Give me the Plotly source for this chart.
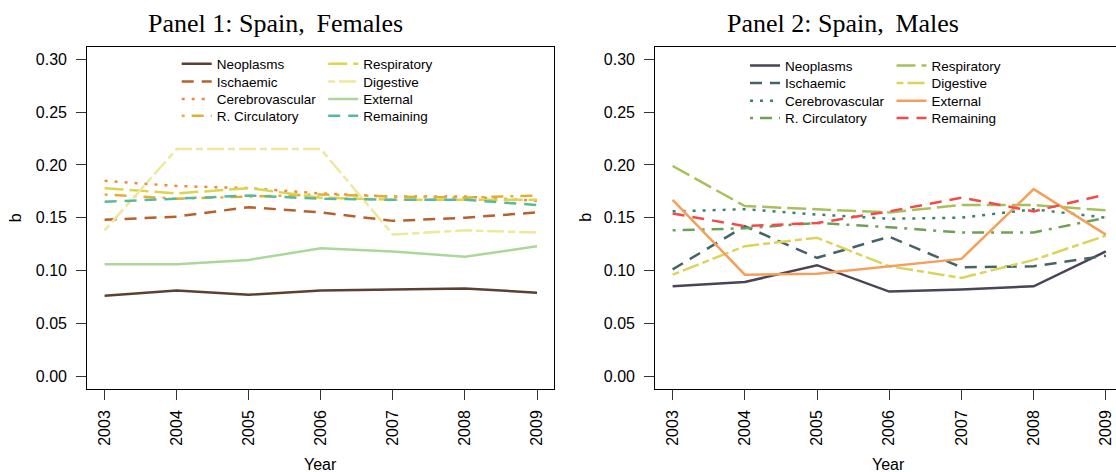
import plotly.graph_objects as go

# ---- data: estimated rotation parameter b by cause of death, Spain ----
years = [2003, 2004, 2005, 2006, 2007, 2008, 2009]
year_labels = [str(y) for y in years]
causes = ["Neoplasms", "Ischaemic", "Cerebrovascular", "R. Circulatory",
          "Respiratory", "Digestive", "External", "Remaining"]
b_ticks = [0.00, 0.05, 0.10, 0.15, 0.20, 0.25, 0.30]

# Females
fem_neoplasms = [0.076, 0.081, 0.077, 0.081, 0.082, 0.083, 0.079]
fem_ischaemic = [0.148, 0.151, 0.160, 0.155, 0.147, 0.150, 0.155]
fem_cerebro = [0.185, 0.180, 0.178, 0.173, 0.170, 0.170, 0.166]
fem_rcirc = [0.172, 0.168, 0.170, 0.172, 0.170, 0.169, 0.171]
fem_respiratory = [0.178, 0.173, 0.178, 0.169, 0.167, 0.167, 0.167]
fem_digestive = [0.138, 0.215, 0.215, 0.215, 0.134, 0.138, 0.136]
fem_external = [0.106, 0.106, 0.110, 0.121, 0.118, 0.113, 0.123]
fem_remaining = [0.165, 0.168, 0.171, 0.168, 0.167, 0.167, 0.162]

# Males
mal_neoplasms = [0.085, 0.089, 0.105, 0.080, 0.082, 0.085, 0.118]
mal_ischaemic = [0.101, 0.142, 0.112, 0.132, 0.103, 0.104, 0.114]
mal_cerebro = [0.156, 0.158, 0.153, 0.149, 0.150, 0.158, 0.150]
mal_rcirc = [0.138, 0.140, 0.145, 0.141, 0.136, 0.136, 0.150]
mal_respiratory = [0.199, 0.161, 0.158, 0.155, 0.162, 0.162, 0.157]
mal_digestive = [0.096, 0.123, 0.131, 0.104, 0.093, 0.110, 0.133]
mal_external = [0.167, 0.096, 0.097, 0.104, 0.111, 0.177, 0.134]
mal_remaining = [0.154, 0.142, 0.145, 0.156, 0.169, 0.156, 0.172]

female_series = [fem_neoplasms, fem_ischaemic, fem_cerebro, fem_rcirc,
                 fem_respiratory, fem_digestive, fem_external, fem_remaining]
male_series = [mal_neoplasms, mal_ischaemic, mal_cerebro, mal_rcirc,
               mal_respiratory, mal_digestive, mal_external, mal_remaining]

female_colors = ["#5a4133", "#b8602c", "#f0893a", "#e0b034",
                 "#dcd44a", "#ede89c", "#a9d89a", "#5cb89b"]
male_colors = ["#4a4456", "#466466", "#3e8070", "#6fa058",
               "#a8c05a", "#dcd45a", "#f4a05a", "#f44a4a"]

# R-style line types: solid, dashed, dotted, dotdash, longdash, twodash
dash_cycle = ["solid", "12px,8px", "3px,7px", "3px,7px,12px,7px",
              "19px,6px", "7px,4px,17px,4px", "solid", "12px,8px"]

# ---- layout geometry (pixels) ----
W, H = 1116, 472
LINE_W = 2.5


def fx(px):
    return px / W


def fy(py):
    return 1 - py / H


panels = [
    dict(series=female_series, colors=female_colors, xaxis="x", yaxis="y",
         xdom=(87.3, 554.3), xrange=(2002.76, 2009.24),
         title="Panel 1: Spain,\u2009 Females", title_x=275.5,
         leg_x=181.7, leg_rows=[64.0, 81.7, 99.3, 116.0], ylab_x=15.5),
    dict(series=male_series, colors=male_colors, xaxis="x2", yaxis="y2",
         xdom=(655.3, 1116.0), xrange=(2002.76, 2002.76 + (1116.0 - 655.3) / 72.2),
         title="Panel 2: Spain,\u2009 Males", title_x=843.3,
         leg_x=750.0, leg_rows=[65.7, 83.3, 101.0, 118.3], ylab_x=586.0),
]
COL_GAP = 146.5
Y_TOP, Y_BOT = 46.7, 388.7

fig = go.Figure()
layout_extra = {}
annotations = []
legend_count = 0

for p_i, p in enumerate(panels):
    for i, (name, vals) in enumerate(zip(causes, p["series"])):
        legend_count += 1
        lid = "legend" if legend_count == 1 else f"legend{legend_count}"
        row, col = i % 4, i // 4
        fig.add_trace(go.Scatter(
            x=years, y=vals, mode="lines", name=name,
            xaxis=p["xaxis"], yaxis=p["yaxis"],
            line=dict(color=p["colors"][i], width=LINE_W, dash=dash_cycle[i]),
            legend=lid, hoverinfo="x+y+name",
        ))
        layout_extra[lid] = dict(
            x=fx(p["leg_x"] + col * COL_GAP - 5), y=fy(p["leg_rows"][row]),
            xanchor="left", yanchor="middle", orientation="v",
            bgcolor="rgba(0,0,0,0)", borderwidth=0,
            font=dict(family="Liberation Sans", size=13.5, color="black"),
            itemwidth=30,
        )
    annotations.append(dict(
        text=p["title"], x=fx(p["title_x"]), y=fy(23.5),
        xref="paper", yref="paper",
        showarrow=False, xanchor="center", yanchor="middle",
        font=dict(family="Liberation Serif", size=26, color="black")))
    annotations.append(dict(
        text="b", x=fx(p["ylab_x"]), y=fy((Y_TOP + Y_BOT) / 2), xref="paper", yref="paper",
        showarrow=False, xanchor="center", yanchor="middle", textangle=-90,
        font=dict(family="Liberation Sans", size=16, color="black")))
    annotations.append(dict(
        text="Year", x=fx((p["xdom"][0] + p["xdom"][0] + 467.0) / 2), y=fy(464),
        xref="paper", yref="paper", showarrow=False, xanchor="center", yanchor="middle",
        font=dict(family="Liberation Sans", size=16, color="black")))

tick_font = dict(family="Liberation Sans", size=16, color="black")
common_x = dict(tickmode="array", tickvals=years, ticktext=year_labels, tickangle=-90,
                ticks="outside", ticklen=10, tickwidth=1, tickcolor="#333",
                showline=True, linecolor="black", linewidth=1.2, showgrid=False,
                zeroline=False, tickfont=tick_font, automargin=False,
                ticklabelstandoff=4)
common_y = dict(tickmode="array", tickvals=b_ticks, ticktext=[f"{v:.2f}" for v in b_ticks],
                range=[-0.012, 0.312], ticks="outside", ticklen=10, tickwidth=1,
                tickcolor="#333", showline=True, linecolor="black", linewidth=1.2,
                showgrid=False, zeroline=False, tickfont=tick_font, automargin=False,
                ticklabelstandoff=6, domain=[fy(Y_BOT), fy(Y_TOP)])

fig.update_layout(
    template="none",
    width=W, height=H, autosize=False,
    margin=dict(l=0, r=0, t=0, b=0, autoexpand=False),
    paper_bgcolor="white", plot_bgcolor="white",
    showlegend=True,
    xaxis=dict(common_x, domain=[fx(panels[0]["xdom"][0]), fx(panels[0]["xdom"][1])],
               range=list(panels[0]["xrange"]), anchor="y", mirror=True),
    yaxis=dict(common_y, anchor="x", mirror=True),
    xaxis2=dict(common_x, domain=[fx(panels[1]["xdom"][0]), 1.0],
                range=list(panels[1]["xrange"]), anchor="y2", mirror=True),
    yaxis2=dict(common_y, anchor="x2", mirror=False),
    annotations=annotations,
    **layout_extra,
)

fig.write_html("out.html")
